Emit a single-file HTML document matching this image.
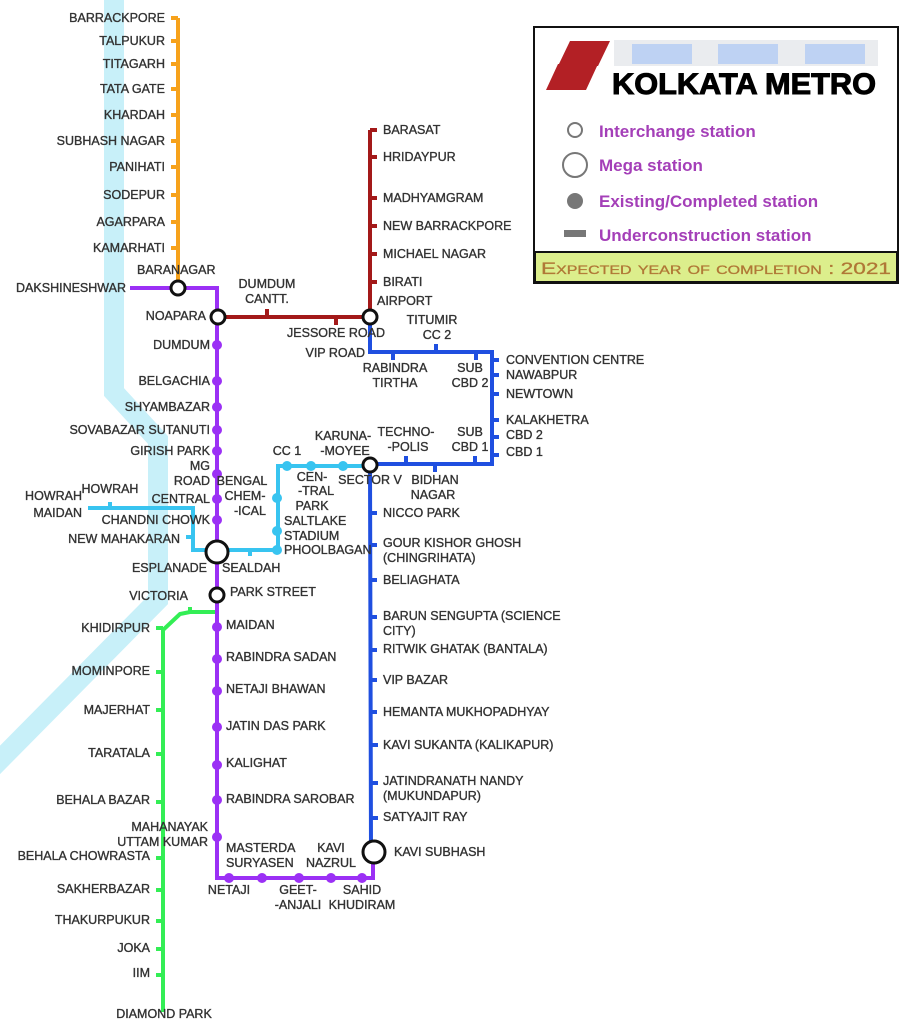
<!DOCTYPE html>
<html><head><meta charset="utf-8"><style>
body{margin:0;background:#fff}
svg text{font-family:"Liberation Sans",Arial,sans-serif;font-size:12.5px;fill:#333;stroke:#333;stroke-width:0.35px}
.r{text-anchor:end}
.m{text-anchor:middle}
</style></head><body>
<svg width="907" height="1024" viewBox="0 0 907 1024" xmlns="http://www.w3.org/2000/svg">
<polyline points="114,0 114,392 158,440 158,600 -10,770" fill="none" stroke="#c8f0f9" stroke-width="20"/>
<g stroke="#f7a21b" stroke-width="4" fill="none">
<line x1="178" y1="18" x2="178" y2="288"/>
<path d="M171,18h7M171,41h7M171,64h7M171,89h7M171,115h7M171,141h7M171,167h7M171,195h7M171,222h7M171,248h7"/>
</g>
<g stroke="#33ee55" stroke-width="4" fill="none">
<polyline points="217,560 217,612 190,612 180,614 163,630 163,1012"/>
<path d="M156,628h7M156,672h7M156,710h7M156,754h7M156,802h7M156,858h7M156,890h7M156,921h7M156,949h7M156,975h7M190,612v-5"/>
</g>
<g stroke="#38c4f0" stroke-width="4" fill="none">
<polyline points="370,466 278,466 278,550 193,550 193,508 88,508"/>
<path d="M110,508v-6M186,537h7M250,550v6"/>
</g>
<g fill="#38c4f0"><circle cx="287" cy="466" r="5"/><circle cx="311" cy="466" r="5"/><circle cx="343" cy="466" r="5"/><circle cx="277" cy="498" r="5"/><circle cx="277" cy="531" r="5"/><circle cx="277" cy="550" r="5"/></g>
<g stroke="#a31919" stroke-width="4" fill="none">
<polyline points="217,317 370,317 370,130"/>
<path d="M370,130h7M370,157h7M370,198h7M370,226h7M370,254h7M370,282h7M267,317v-8M336,317v8"/>
</g>
<g stroke="#1f4fe0" stroke-width="4" fill="none">
<polyline points="370,317 370,352 492,352 492,464 370,464 371,852"/>
<path d="M393,352v8M436,352v-8M476,352v8M492,360h7M492,375h7M492,394h7M492,420h7M492,437h7M492,455h7M406,464v-8M435,464v8M475,464v-8"/>
<path d="M370,513h7M370,545h7M370,580h7M370,617h7M370,650h7M370,680h7M370,712h7M371,745h7M371,783h7M371,818h7"/>
</g>
<g stroke="#9b30f5" stroke-width="4" fill="none">
<polyline points="130,288 217,288 217,878 373,878 373,852"/>
</g>
<g fill="#9b30f5">
<circle cx="217" cy="345" r="5"/><circle cx="217" cy="381" r="5"/><circle cx="217" cy="407" r="5"/><circle cx="217" cy="430" r="5"/><circle cx="217" cy="451" r="5"/><circle cx="217" cy="474" r="5"/><circle cx="217" cy="499" r="5"/><circle cx="217" cy="520" r="5"/>
<circle cx="217" cy="627" r="5"/><circle cx="217" cy="659" r="5"/><circle cx="217" cy="691" r="5"/><circle cx="217" cy="727" r="5"/><circle cx="217" cy="765" r="5"/><circle cx="217" cy="800" r="5"/><circle cx="217" cy="837" r="5"/>
<circle cx="229" cy="878" r="5"/><circle cx="262" cy="878" r="5"/><circle cx="299" cy="878" r="5"/><circle cx="331" cy="878" r="5"/><circle cx="362" cy="878" r="5"/>
</g>
<g fill="#fff" stroke="#111" stroke-width="3">
<circle cx="178" cy="288" r="7"/><circle cx="218" cy="317" r="7"/><circle cx="370" cy="317" r="7"/><circle cx="370" cy="465" r="7"/><circle cx="217" cy="595" r="7"/>
<circle cx="217" cy="552" r="11"/><circle cx="374" cy="852" r="11"/>
</g>
<text x="165" y="22" class="r">BARRACKPORE</text><text x="165" y="45" class="r">TALPUKUR</text><text x="165" y="68" class="r">TITAGARH</text><text x="165" y="93" class="r">TATA GATE</text><text x="165" y="119" class="r">KHARDAH</text><text x="165" y="145" class="r">SUBHASH NAGAR</text><text x="165" y="171" class="r">PANIHATI</text><text x="165" y="199" class="r">SODEPUR</text><text x="165" y="226" class="r">AGARPARA</text><text x="165" y="252" class="r">KAMARHATI</text>
<text x="137" y="274">BARANAGAR</text>
<text x="126" y="292" class="r">DAKSHINESHWAR</text>
<text x="206" y="320" class="r">NOAPARA</text>
<text x="267" y="288" class="m">DUMDUM</text><text x="267" y="303" class="m">CANTT.</text>
<text x="336" y="337" class="m">JESSORE ROAD</text>
<text x="365" y="357" class="r">VIP ROAD</text>
<text x="210" y="349" class="r">DUMDUM</text><text x="210" y="385" class="r">BELGACHIA</text><text x="210" y="411" class="r">SHYAMBAZAR</text><text x="210" y="434" class="r">SOVABAZAR SUTANUTI</text><text x="210" y="455" class="r">GIRISH PARK</text>
<text x="210" y="470" class="r">MG</text><text x="210" y="485" class="r">ROAD</text>
<text x="210" y="503" class="r">CENTRAL</text><text x="210" y="524" class="r">CHANDNI CHOWK</text>
<text x="180" y="543" class="r">NEW MAHAKARAN</text>
<text x="207" y="572" class="r">ESPLANADE</text>
<text x="222" y="572">SEALDAH</text>
<text x="188" y="600" class="r">VICTORIA</text>
<text x="230" y="596">PARK STREET</text>
<text x="82" y="500" class="r">HOWRAH</text><text x="82" y="517" class="r">MAIDAN</text>
<text x="110" y="493" class="m">HOWRAH</text>
<text x="242" y="485" class="m">BENGAL</text><text x="245" y="500" class="m">CHEM-</text><text x="250" y="515" class="m">-ICAL</text>
<text x="287" y="455" class="m">CC 1</text>
<text x="312" y="481" class="m">CEN-</text><text x="316" y="495" class="m">-TRAL</text><text x="312" y="510" class="m">PARK</text>
<text x="284" y="525">SALTLAKE</text><text x="284" y="540">STADIUM</text><text x="284" y="554">PHOOLBAGAN</text>
<text x="343" y="440" class="m">KARUNA-</text><text x="345" y="455" class="m">-MOYEE</text>
<text x="370" y="484" class="m">SECTOR V</text>
<text x="406" y="436" class="m">TECHNO-</text><text x="408" y="451" class="m">-POLIS</text>
<text x="435" y="484" class="m">BIDHAN</text><text x="433" y="499" class="m">NAGAR</text>
<text x="470" y="436" class="m">SUB</text><text x="470" y="451" class="m">CBD 1</text>
<text x="470" y="372" class="m">SUB</text><text x="470" y="387" class="m">CBD 2</text>
<text x="395" y="372" class="m">RABINDRA</text><text x="395" y="387" class="m">TIRTHA</text>
<text x="432" y="324" class="m">TITUMIR</text><text x="437" y="339" class="m">CC 2</text>
<text x="506" y="364">CONVENTION CENTRE</text><text x="506" y="379">NAWABPUR</text><text x="506" y="398">NEWTOWN</text><text x="506" y="424">KALAKHETRA</text><text x="506" y="439">CBD 2</text><text x="506" y="456">CBD 1</text>
<text x="383" y="134">BARASAT</text><text x="383" y="161">HRIDAYPUR</text><text x="383" y="202">MADHYAMGRAM</text><text x="383" y="230">NEW BARRACKPORE</text><text x="383" y="258">MICHAEL NAGAR</text><text x="383" y="286">BIRATI</text><text x="377" y="305">AIRPORT</text>
<text x="383" y="517">NICCO PARK</text><text x="383" y="547">GOUR KISHOR GHOSH</text><text x="383" y="562">(CHINGRIHATA)</text><text x="383" y="584">BELIAGHATA</text>
<text x="383" y="620">BARUN SENGUPTA (SCIENCE</text><text x="383" y="635">CITY)</text><text x="383" y="653">RITWIK GHATAK (BANTALA)</text><text x="383" y="684">VIP BAZAR</text><text x="383" y="716">HEMANTA MUKHOPADHYAY</text><text x="383" y="749">KAVI SUKANTA (KALIKAPUR)</text><text x="383" y="785">JATINDRANATH NANDY</text><text x="383" y="800">(MUKUNDAPUR)</text><text x="383" y="821">SATYAJIT RAY</text>
<text x="394" y="856">KAVI SUBHASH</text>
<text x="226" y="629">MAIDAN</text><text x="226" y="661">RABINDRA SADAN</text><text x="226" y="693">NETAJI BHAWAN</text><text x="226" y="730">JATIN DAS PARK</text><text x="226" y="767">KALIGHAT</text><text x="226" y="803">RABINDRA SAROBAR</text>
<text x="208" y="831" class="r">MAHANAYAK</text><text x="208" y="846" class="r">UTTAM KUMAR</text>
<text x="226" y="852">MASTERDA</text><text x="226" y="867">SURYASEN</text>
<text x="331" y="852" class="m">KAVI</text><text x="331" y="867" class="m">NAZRUL</text>
<text x="229" y="894" class="m">NETAJI</text>
<text x="298" y="894" class="m">GEET-</text><text x="298" y="909" class="m">-ANJALI</text>
<text x="362" y="894" class="m">SAHID</text><text x="362" y="909" class="m">KHUDIRAM</text>
<text x="150" y="632" class="r">KHIDIRPUR</text><text x="150" y="675" class="r">MOMINPORE</text><text x="150" y="714" class="r">MAJERHAT</text><text x="150" y="757" class="r">TARATALA</text><text x="150" y="804" class="r">BEHALA BAZAR</text><text x="150" y="860" class="r">BEHALA CHOWRASTA</text><text x="150" y="893" class="r">SAKHERBAZAR</text><text x="150" y="924" class="r">THAKURPUKUR</text><text x="150" y="952" class="r">JOKA</text><text x="150" y="977" class="r">IIM</text>
<text x="164" y="1018" class="m">DIAMOND PARK</text>
<!-- legend -->
<rect x="534" y="27" width="364" height="256" fill="#fff" stroke="#111" stroke-width="2"/>
<rect x="535" y="252" width="362" height="30" fill="#dcee8c" stroke="#111" stroke-width="2"/>
<g opacity="0.75">
<rect x="614" y="40" width="264" height="26" fill="#e4e6ea"/>
<rect x="632" y="44" width="60" height="20" fill="#a9c3ef"/>
<rect x="718" y="44" width="60" height="20" fill="#a9c3ef"/>
<rect x="805" y="44" width="60" height="20" fill="#a9c3ef"/>
</g>
<g fill="#b32025"><polygon points="570,41 610,41 598,66 558,66"/><polygon points="558,64 598,64 586,90 546,90"/></g>
<text x="612" y="94" textLength="264" lengthAdjust="spacingAndGlyphs" style="font-size:30px;font-weight:bold;fill:#000;stroke:#000;stroke-width:1px">KOLKATA METRO</text>
<g>
<text x="599" y="137" style="font-size:17px;font-weight:bold;fill:#a43fb8;stroke:none">Interchange station</text>
<text x="599" y="171" style="font-size:17px;font-weight:bold;fill:#a43fb8;stroke:none">Mega station</text>
<text x="599" y="207" style="font-size:17px;font-weight:bold;fill:#a43fb8;stroke:none">Existing/Completed station</text>
<text x="599" y="241" style="font-size:17px;font-weight:bold;fill:#a43fb8;stroke:none">Underconstruction station</text>
</g>
<circle cx="575" cy="130" r="7" fill="#fff" stroke="#777" stroke-width="2"/>
<circle cx="575" cy="165" r="12" fill="#fff" stroke="#777" stroke-width="2"/>
<circle cx="575" cy="201" r="8" fill="#777"/>
<rect x="564" y="230" width="22" height="7" fill="#777"/>
<text x="716" y="274" class="m" textLength="350" lengthAdjust="spacingAndGlyphs" style="font-size:17px;fill:#b07836;stroke:#b07836;stroke-width:0.3px;font-variant:small-caps">Expected year of completion : 2021</text>
</svg>
</body></html>
